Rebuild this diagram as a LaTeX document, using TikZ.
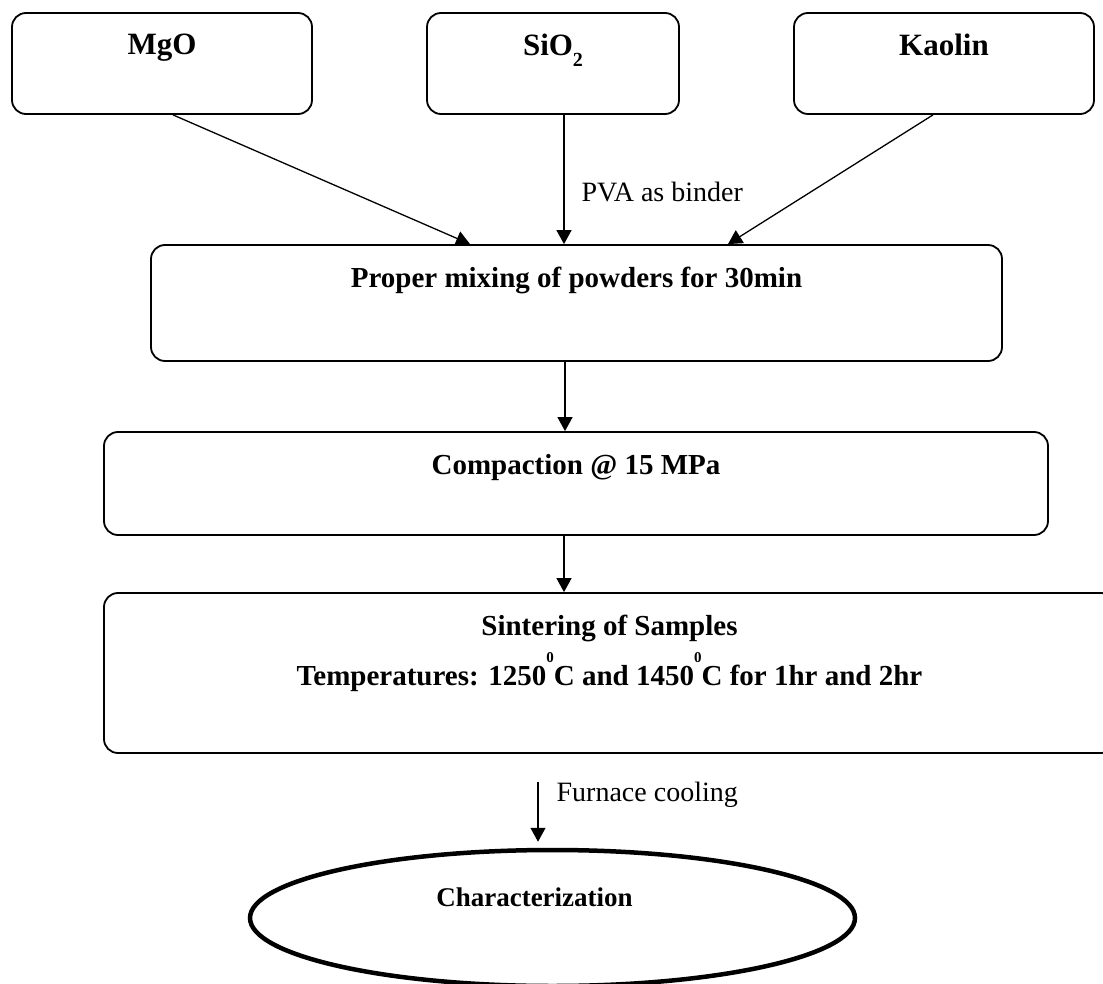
\documentclass[tikz,border=0pt]{standalone}
\usepackage{fontspec}
\setmainfont{Liberation Serif}
\usetikzlibrary{positioning,calc,arrows.meta,shapes.geometric}
\newcommand{\sdeg}{\raisebox{23pt}{\fontsize{15}{15}\selectfont 0}}
\newcommand{\ssub}[1]{\raisebox{-11pt}{\fontsize{20}{20}\selectfont #1}}

\begin{document}
\begin{tikzpicture}[x=1pt, y=-1pt,
	box/.style={draw, line width=1.8pt, rounded corners=14pt, inner sep=0pt},
	tag/.style={inner sep=0pt, align=center, font=\fontsize{29}{35}\selectfont\bfseries},
	lbl/.style={inner sep=0pt, font=\fontsize{28}{34}\selectfont},
	arr/.style={line width=1.3pt, -{Triangle[length=14pt, width=15pt]}}]
	\clip (0,0) rectangle (1103,984);

	\node[box, minimum width=300pt, minimum height=101pt] (m1) at (162,63.5) {};
	\node[box, minimum width=252pt, minimum height=101pt] (m2) at (553,63.5) {};
	\node[box, minimum width=300pt, minimum height=101pt] (m3) at (944,63.5) {};
	\node[box, minimum width=851pt, minimum height=116pt] (mix) at (576.5,303) {};
	\node[box, minimum width=944pt, minimum height=103pt] (comp) at (576,483.5) {};
	\node[box, minimum width=1011pt, minimum height=160pt] (sint) at (609.5,673) {};
	\node[draw, ellipse, line width=4.5pt, inner sep=0pt,
		minimum width=605pt, minimum height=136pt] (ch) at (552.5,918) {};

	\node[tag, font=\fontsize{31}{37}\selectfont\bfseries, below=22pt of m1.north] (t1) {MgO};
	\node[tag, font=\fontsize{31}{37}\selectfont\bfseries, below=22pt of m2.north] (t2) {SiO\ssub{2}};
	\node[tag, font=\fontsize{31}{37}\selectfont\bfseries, below=22pt of m3.north] (t3) {Kaolin};
	\node[tag, below=23pt of mix.north] (t4) {Proper mixing of powders for 30min};
	\node[tag, below=23pt of comp.north] (t5) {Compaction @ 15 MPa};
	\node[tag, below=23pt of sint.north] (t6) {Sintering of Samples\\[9pt]
		Temperatures: 1250\sdeg C and 1450\sdeg C for 1hr and 2hr};
	\node[tag, font=\fontsize{27}{33}\selectfont\bfseries] (t7) at ($(ch)+(-18,-21)$) {Characterization};

	\draw[arr] ([xshift=11pt]m1.south) -- ([xshift=-106.5pt]mix.north);
	\draw[arr] ([xshift=11pt]m2.south) -- node[lbl, pos=0.6, right=17pt] (pva) {PVA as binder}
		([xshift=-12.5pt]mix.north);
	\draw[arr] ([xshift=-11pt]m3.south) -- ([xshift=151.5pt]mix.north);
	\draw[arr] ([xshift=-11.5pt]mix.south) -- ([xshift=-11pt]comp.north);
	\draw[arr] ([xshift=-12pt]comp.south) -- ([xshift=-45.5pt]sint.north);

	\coordinate (fc) at (538,782);
	\draw[arr, shorten >=6pt] (fc) -- node[lbl, pos=0.2, right=18pt] (fur) {Furnace cooling}
		(fc |- ch.north);
\end{tikzpicture}
\end{document}
